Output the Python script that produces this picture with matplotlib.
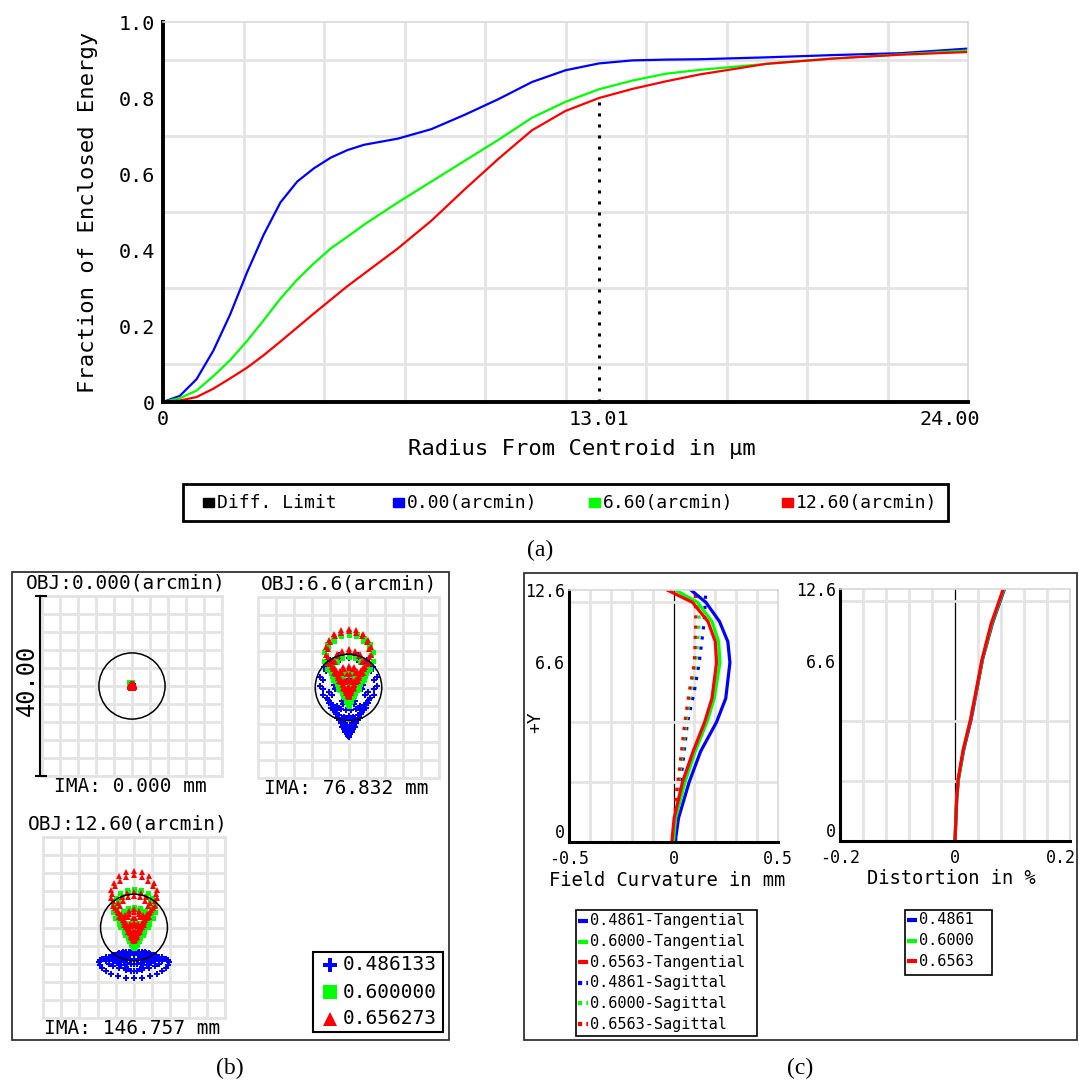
import numpy as np
import matplotlib
matplotlib.use("Agg")
import matplotlib.pyplot as plt
from matplotlib.patches import Rectangle, Circle
from matplotlib.transforms import ScaledTranslation

# ---------------- data ----------------
# (a) enclosed energy vs radius (um)
radius = [0, 0.5, 1.0, 1.5, 2.0, 2.5, 3.0, 3.5, 4.0, 4.5, 5.0, 5.5, 6.0, 7.0, 8.0,
          9.0, 10.0, 11.0, 12.0, 13.0, 14.0, 15.0, 16.0, 18.0, 20.0, 22.0, 24.0]
ee_000 = [0, 0.016, 0.06, 0.135, 0.23, 0.34, 0.44, 0.525, 0.58, 0.615, 0.643, 0.663, 0.677,
          0.693, 0.718, 0.756, 0.797, 0.842, 0.873, 0.891, 0.899, 0.901, 0.902, 0.907, 0.913, 0.918, 0.93]
ee_660 = [0, 0.01, 0.03, 0.068, 0.11, 0.16, 0.215, 0.272, 0.322, 0.365, 0.404, 0.435, 0.467,
          0.525, 0.58, 0.635, 0.69, 0.748, 0.79, 0.823, 0.846, 0.864, 0.874, 0.89, 0.904, 0.915, 0.925]
ee_1260 = [0, 0.004, 0.013, 0.035, 0.062, 0.09, 0.123, 0.159, 0.196, 0.233, 0.269, 0.305, 0.338,
           0.404, 0.477, 0.56, 0.64, 0.715, 0.766, 0.8, 0.824, 0.844, 0.862, 0.89, 0.904, 0.914, 0.921]
ee_labels = ["0.00(arcmin)", "6.60(arcmin)", "12.60(arcmin)"]
r_marker = 13.01

# (b) spot diagrams: per field, per wavelength (x0, y0, defocus x, defocus y, coma) in um
spot_titles = ["OBJ:0.000(arcmin)", "OBJ:6.6(arcmin)", "OBJ:12.60(arcmin)"]
spot_ima = ["IMA: 0.000 mm", "IMA: 76.832 mm", "IMA: 146.757 mm"]
spot_blue = [(0, 0.2, 0.3, 0.3, 0.0), (0, -11.0, 0.5, 0.5, 6.0), (0, -5.3, 7.0, 0.8, -1.7)]
spot_green = [(-0.3, 0.5, 0.4, 0.4, 0.0), (0, -4.0, 0.3, 0.3, 5.3), (0, -4.6, 0.6, 0.3, 4.3)]
spot_red = [(0, 0.0, 0.5, 0.5, 0.0), (0, -2.0, 0.3, 0.3, 4.9), (0, -3.0, 0.3, 0.5, 5.0)]
airy_radius = 7.35
wavelengths = ["0.486133", "0.600000", "0.656273"]

# (c) field curvature (mm) and distortion (%) vs normalised field
fc_y = [0, 0.095, 0.238, 0.36, 0.476, 0.57, 0.712, 0.795, 0.875, 0.951, 1.0]
tan_486 = [0.008, 0.024, 0.075, 0.13, 0.206, 0.25, 0.27, 0.26, 0.22, 0.155, 0.083]
tan_600 = [0.0, 0.01, 0.055, 0.104, 0.16, 0.195, 0.222, 0.216, 0.184, 0.115, 0.01]
tan_656 = [-0.008, 0.003, 0.043, 0.094, 0.149, 0.184, 0.206, 0.2, 0.165, 0.091, -0.03]
sag_y = [0, 0.19, 0.3, 0.476, 0.6, 0.712, 0.875, 1.0]
sag_486 = [0.01, 0.024, 0.043, 0.067, 0.1, 0.123, 0.147, 0.155]
sag_600 = [0.005, 0.018, 0.035, 0.06, 0.083, 0.107, 0.123, 0.118]
sag_656 = [0.0, 0.013, 0.03, 0.054, 0.076, 0.1, 0.107, 0.104]
dist_y = [0, 0.17, 0.246, 0.36, 0.482, 0.6, 0.721, 0.863, 1.0]
dist_486 = [0, 0.003, 0.006, 0.015, 0.028, 0.038, 0.048, 0.065, 0.086]
dist_600 = [0, 0.003, 0.006, 0.0145, 0.027, 0.0375, 0.0475, 0.064, 0.085]
dist_656 = [0, 0.003, 0.0055, 0.014, 0.027, 0.037, 0.047, 0.063, 0.084]
field_grid = [0.238, 0.476, 0.713, 0.951]
field_ticks = [0, 0.713, 1.0]
field_ticklabels = ["0", "6.6", "12.6"]
wl_short = ["0.4861", "0.6000", "0.6563"]

colors = ["#0000ff", "#00ff00", "#ff0000"]
GRID = "#e4e4e4"

plt.rcParams["font.family"] = ["DejaVu Sans Mono"]

W, H = 1079, 1084
fig = plt.figure(figsize=(W / 100, H / 100), dpi=100)


def box(x0, y0, x1, y1):
    return [x0 / W, 1 - y1 / H, (x1 - x0) / W, (y1 - y0) / H]


def shift(label, dx):
    # move a tick label sideways by dx pixels
    label.set_transform(label.get_transform() + ScaledTranslation(dx / 100, 0, fig.dpi_scale_trans))


# overlay in pixel coordinates for frames, labels and legends
ov = fig.add_axes([0, 0, 1, 1], zorder=10)
ov.set_xlim(0, W)
ov.set_ylim(H, 0)
ov.axis("off")


def frame(x0, y0, x1, y1, lw=1.3, ec="#333333"):
    ov.add_patch(Rectangle((x0, y0), x1 - x0, y1 - y0, fill=False, ec=ec, lw=lw))


# ---------------- (a) enclosed energy ----------------
ax = fig.add_axes(box(163, 22, 968, 402))
for vals, col in zip([ee_000, ee_660, ee_1260], colors):
    ax.plot(radius, vals, color=col, lw=1.6)
ax.plot([r_marker, r_marker], [0, np.interp(r_marker, radius, ee_1260)],
        color="k", ls=(0, (1, 2.6)), lw=2.2)
ax.set_xlim(0, 24)
ax.set_ylim(0, 1)
ax.set_xticks(np.linspace(0, 24, 11), minor=True)
ax.set_yticks(np.linspace(0, 1, 11), minor=True)
ax.grid(which="minor", color=GRID, lw=2)
ax.set_xticks([0, r_marker, 24])
ax.set_xticklabels(["0", "13.01", "24.00"])
ax.set_yticks([0, 0.2, 0.4, 0.6, 0.8, 1.0])
ax.set_yticklabels(["0", "0.2", "0.4", "0.6", "0.8", "1.0"])
ax.tick_params(which="both", length=0, labelsize=14.5, pad=6)
shift(ax.get_xticklabels()[-1], -18)
for s in ["left", "bottom"]:
    ax.spines[s].set_linewidth(2.8)
for s in ["top", "right"]:
    ax.spines[s].set_color("#d8d8d8")
    ax.spines[s].set_linewidth(1.2)
ov.text(88, 212, "Fraction of Enclosed Energy", rotation=90, ha="center", va="center", fontsize=16)
ov.text(582, 449, "Radius From Centroid in µm", ha="center", va="center", fontsize=16)

# legend of (a)
frame(183, 484, 948, 521, lw=2, ec="k")
leg_x = [203, 393, 589, 782]
for x, col, txt in zip(leg_x, ["k"] + colors, ["Diff. Limit"] + ee_labels):
    ov.add_patch(Rectangle((x, 498), 11, 9, color=col))
    ov.text(x + 14, 503, txt, ha="left", va="center", fontsize=13)
ov.text(540, 550, "(a)", ha="center", va="center", fontsize=17, family="Liberation Serif")

# ---------------- (b) spot diagrams ----------------
frame(12, 572, 449, 1040)
rings = [np.full(6 * k, k / 6.0) for k in range(1, 7)]
angles = [np.arange(6 * k) * 2 * np.pi / (6 * k) for k in range(1, 7)]
rho = np.concatenate([[0.0]] + rings)
theta = np.concatenate([[0.0]] + angles)


def spot(p):
    x0, y0, dx, dy, c = p
    x = x0 + dx * rho * np.sin(theta) + c * rho ** 2 * np.sin(2 * theta)
    y = y0 + dy * rho * np.cos(theta) + c * rho ** 2 * (2 + np.cos(2 * theta))
    return x, y


spot_boxes = [(42, 596, 222, 776), (258, 597, 439, 778), (43, 837, 225, 1018)]
markers = [("P", 4.6), ("s", 3.6), ("^", 4.2)]
for i, b in enumerate(spot_boxes):
    sa = fig.add_axes(box(*b))
    sa.set_xlim(-20, 20)
    sa.set_ylim(-20, 20)
    sa.set_xticks(np.linspace(-20, 20, 11))
    sa.set_yticks(np.linspace(-20, 20, 11))
    sa.grid(color=GRID, lw=2)
    sa.tick_params(length=0, labelbottom=False, labelleft=False)
    for s in sa.spines.values():
        s.set_color(GRID)
        s.set_linewidth(2)
    for params, col, (m, ms) in zip([spot_blue[i], spot_green[i], spot_red[i]], colors, markers):
        x, y = spot(params)
        sa.plot(x, y, ls="none", marker=m, ms=ms, color=col, mew=0)
    sa.add_patch(Circle((0, 0), airy_radius, fill=False, ec="k", lw=1.1, zorder=4))
    cx = (b[0] + b[2]) / 2
    ov.text(cx - 6 if i != 1 else cx, b[1] - 13, spot_titles[i], ha="center", va="center", fontsize=14)
    ov.text(cx - 2, b[3] + 11, spot_ima[i], ha="center", va="center", fontsize=14)

# scale bar
ov.plot([40, 40], [596, 776], color="k", lw=1.5)
ov.plot([36, 46], [596, 596], color="k", lw=1.5)
ov.plot([36, 46], [776, 776], color="k", lw=1.5)
ov.text(27, 680, "40.00", rotation=90, ha="center", va="center", fontsize=17)

frame(313, 952, 443, 1032, lw=1.5, ec="k")
for j, (col, (m, ms), wl) in enumerate(zip(colors, markers, wavelengths)):
    yy = 965 + 27 * j
    ov.plot([330], [yy], marker=m, ms=10, color=col, mew=0, ls="none")
    ov.text(343, yy, wl, ha="left", va="center", fontsize=14)
ov.text(230, 1068, "(b)", ha="center", va="center", fontsize=17, family="Liberation Serif")

# ---------------- (c) field curvature / distortion ----------------
frame(524, 573, 1077, 1040)


def small_axes(b, xlim, xlabels):
    a = fig.add_axes(box(*b))
    a.set_xlim(*xlim)
    a.set_ylim(0, 1)
    a.set_xticks(np.linspace(xlim[0], xlim[1], 11), minor=True)
    a.set_yticks(field_grid, minor=True)
    a.grid(which="minor", color=GRID, lw=2)
    a.set_xticks([xlim[0], 0, xlim[1]])
    a.set_xticklabels(xlabels)
    a.set_yticks(field_ticks)
    a.set_yticklabels(field_ticklabels)
    a.tick_params(which="both", length=0, labelsize=12)
    a.tick_params(axis="x", pad=5.5)
    a.tick_params(axis="y", pad=3)
    a.axvline(0, color="k", lw=0.9, zorder=1.5)
    for s in ["left", "bottom"]:
        a.spines[s].set_linewidth(2.2)
    for s in ["top", "right"]:
        a.spines[s].set_color("#d8d8d8")
        a.spines[s].set_linewidth(1.2)
    # lift the "0" field label a little off the bottom corner
    a.get_yticklabels()[0].set_va("bottom")
    return a


fc = small_axes((569, 590, 778, 842), (-0.5, 0.5), ["-0.5", "0", "0.5"])
for vals, col in zip([sag_486, sag_600, sag_656], colors):
    fc.plot(vals, sag_y, color=col, lw=2.3, ls=(0, (1, 2.2)))
for vals, col in zip([tan_486, tan_600, tan_656], colors):
    fc.plot(vals, fc_y, color=col, lw=2.3)
ov.text(535, 722, "+Y", rotation=90, ha="center", va="center", fontsize=13)
ov.text(667, 880, "Field Curvature in mm", ha="center", va="center", fontsize=13.5)

dc = small_axes((840, 589, 1070, 841), (-0.2, 0.2), ["-0.2", "0", "0.2"])
for vals, col in zip([dist_486, dist_600, dist_656], colors):
    dc.plot(vals, dist_y, color=col, lw=2.3)
last = dc.get_xticklabels()[-1]
last.set_ha("right")
shift(last, 6)
ov.text(951, 879, "Distortion in %", ha="center", va="center", fontsize=13.5)

# legends of (c)
frame(576, 910, 757, 1036, lw=1.2, ec="k")
names = [w + "-Tangential" for w in wl_short] + [w + "-Sagittal" for w in wl_short]
for j, nm in enumerate(names):
    yy = 921 + 20.6 * j
    ls = "-" if j < 3 else (0, (1, 1))
    ov.plot([578, 588], [yy, yy], color=colors[j % 3], lw=3, ls=ls, solid_capstyle="butt")
    ov.text(590, yy, nm, ha="left", va="center", fontsize=11)
frame(905, 910, 992, 975, lw=1.2, ec="k")
for j, nm in enumerate(wl_short):
    yy = 920 + 20.5 * j
    ov.plot([907, 917], [yy, yy], color=colors[j], lw=3, solid_capstyle="butt")
    ov.text(919, yy, nm, ha="left", va="center", fontsize=11)
ov.text(800, 1068, "(c)", ha="center", va="center", fontsize=17, family="Liberation Serif")

fig.savefig("out.png", dpi=100)
